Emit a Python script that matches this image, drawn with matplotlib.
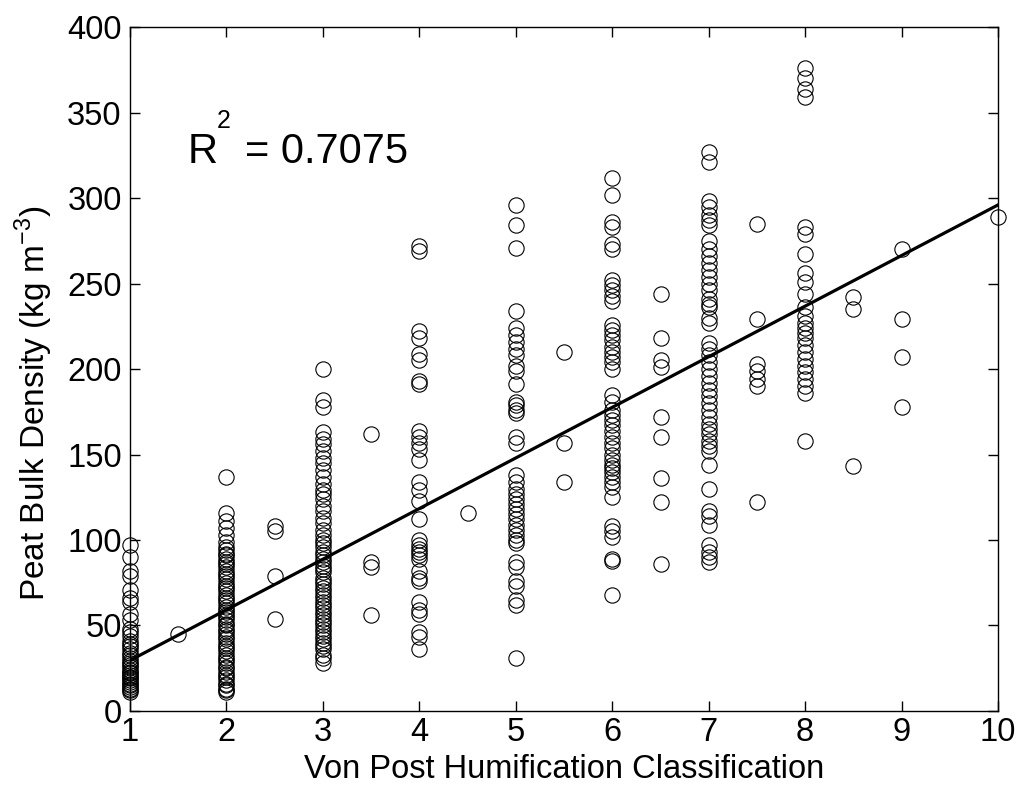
import numpy as np
import matplotlib
matplotlib.use("Agg")
import matplotlib.pyplot as plt

# ---------------------------------------------------------------
# data: bulk density (kg m-3) per von Post class
# ---------------------------------------------------------------
vp_1 = [97, 90, 82, 79, 71, 66, 64, 57, 53, 48, 46, 44, 41, 39, 38, 36, 34, 33, 31,
        29, 28, 27, 26, 24, 23, 22, 21, 20, 19, 18, 17, 16, 15, 14, 13, 12, 11]
vp_1_5 = [45]
vp_2 = [137, 116, 111, 107, 103, 99, 96, 94, 92, 91, 89, 87, 86, 84, 82, 80, 79, 77,
        75, 73, 72, 70, 68, 66, 65, 63, 61, 59, 58, 56, 55, 53, 51, 50, 48, 47, 45,
        43, 42, 40, 38, 37, 35, 33, 31, 30, 28, 26, 25, 23, 21, 20, 18, 16, 15, 13, 12, 11]
vp_2_5 = [108, 105, 79, 54]
vp_3 = [200, 182, 178, 163, 159, 156, 152, 148, 145, 141, 137, 133, 129, 127, 124, 120,
        117, 113, 110, 106, 103, 100, 98, 96, 93, 91, 89, 87, 85, 83, 81, 78, 76, 74, 72,
        70, 68, 66, 64, 62, 60, 58, 56, 54, 52, 50, 48, 46, 44, 42, 40, 38, 36, 33, 31, 28]
vp_3_5 = [162, 87, 84, 56]
vp_4 = [272, 269, 222, 218, 209, 205, 193, 191, 164, 160, 157, 153, 147, 134, 129, 123,
        112, 100, 97, 95, 93, 91, 89, 82, 78, 76, 64, 59, 57, 46, 43, 36]
vp_4_5 = [116]
vp_5 = [296, 284, 271, 234, 224, 220, 216, 212, 208, 202, 199, 191, 181, 179, 176, 174,
        160, 157, 138, 134, 130, 127, 124, 121, 118, 115, 112, 109, 106, 103, 100, 98,
        87, 84, 76, 73, 65, 62, 31]
vp_5_5 = [210, 157, 134]
vp_6 = [312, 302, 286, 283, 273, 270, 252, 249, 246, 243, 240, 226, 223, 220, 217, 213,
        210, 207, 204, 200, 185, 181, 176, 173, 170, 167, 164, 160, 157, 154, 150, 147,
        144, 142, 140, 137, 134, 131, 125, 108, 105, 102, 89, 88, 68]
vp_6_5 = [244, 218, 205, 201, 172, 160, 136, 122, 86]
vp_7 = [327, 321, 298, 295, 290, 287, 284, 275, 270, 266, 262, 258, 254, 250, 246, 241,
        238, 236, 230, 227, 215, 212, 208, 204, 200, 196, 192, 188, 184, 180, 176, 172,
        168, 165, 162, 158, 155, 152, 144, 130, 117, 114, 109, 97, 93, 90, 87]
vp_7_5 = [285, 229, 203, 199, 194, 190, 122]
vp_8 = [376, 370, 364, 359, 283, 279, 267, 256, 251, 244, 236, 231, 227, 224, 221, 218,
        214, 210, 206, 202, 198, 194, 190, 186, 158]
vp_8_5 = [242, 235, 143]
vp_9 = [270, 229, 207, 178]
vp_10 = [289]

klassen = [1, 1.5, 2, 2.5, 3, 3.5, 4, 4.5, 5, 5.5, 6, 6.5, 7, 7.5, 8, 8.5, 9, 10]
waarden = [vp_1, vp_1_5, vp_2, vp_2_5, vp_3, vp_3_5, vp_4, vp_4_5, vp_5, vp_5_5,
           vp_6, vp_6_5, vp_7, vp_7_5, vp_8, vp_8_5, vp_9, vp_10]

# linear fit as drawn in the figure
FIT_SLOPE = 29.6
FIT_INTERCEPT = 0.0
R2_TEKST = "= 0.7075"

x_all = np.concatenate([np.full(len(v), k, dtype=float) for k, v in zip(klassen, waarden)])
y_all = np.concatenate([np.asarray(v, dtype=float) for v in waarden])

# ---------------------------------------------------------------
plt.rcParams['font.family'] = ['Liberation Sans', 'DejaVu Sans']
plt.rcParams['mathtext.fontset'] = 'custom'
plt.rcParams['mathtext.rm'] = 'Liberation Sans'

fig = plt.figure(figsize=(10.2, 7.87), dpi=100)
ax = fig.add_axes([0.1275, 0.0966, 0.851, 0.869])

ax.plot(x_all, y_all, 'o', mfc='none', mec='black', ms=11, mew=0.8,
        zorder=2, clip_on=False)

x_fit = np.array([1, 10])
ax.plot(x_fit, FIT_INTERCEPT + FIT_SLOPE * x_fit, color='black', lw=2.3, zorder=3)

ax.set_xlim(1, 10)
ax.set_ylim(0, 400)
ax.set_xticks(range(1, 11))
ax.set_yticks(range(0, 401, 50))

ax.tick_params(direction='in', length=7, width=1, top=True, right=True,
               labelsize=23.5, colors='black')
ax.tick_params(axis='x', pad=4)
ax.tick_params(axis='y', pad=6)
for sp in ax.spines.values():
    sp.set_linewidth(1.0)

ax.set_xlabel("Von Post Humification Classification", fontsize=23.5)
ax.set_ylabel(r"Peat Bulk Density (kg m$^{\mathregular{-3}}$)", fontsize=24)
ax.xaxis.set_label_coords(0.5, -0.063)
ax.yaxis.set_label_coords(-0.086, 0.45)

# R^2 annotation, MATLAB-style superscript
ax.text(0.0668, 0.8007, "R", transform=ax.transAxes, fontsize=30, va='baseline')
ax.text(0.1000, 0.853, "2", transform=ax.transAxes, fontsize=18, va='baseline')
ax.text(0.1320, 0.8007, R2_TEKST, transform=ax.transAxes, fontsize=30, va='baseline')

fig.savefig("out.png", dpi=100)
